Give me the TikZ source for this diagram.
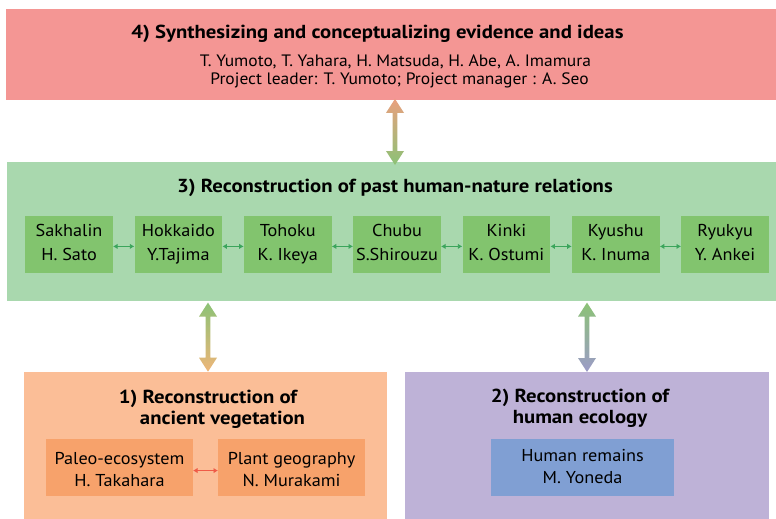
\documentclass[tikz,border=0pt]{standalone}
\usepackage{fontspec}
\setmainfont{PT Sans}[FakeStretch=1.06, BoldFeatures={FakeStretch=1.10}]
\usetikzlibrary{arrows.meta,calc}

% box fills
\definecolor{synfill}{HTML}{F49694}
\definecolor{pastfill}{HTML}{A9D8AE}
\definecolor{regionfill}{HTML}{82C46E}
\definecolor{linkgreen}{HTML}{3BA55C}
\definecolor{vegfill}{HTML}{FBBE97}
\definecolor{vegsub}{HTML}{F7A26B}
\definecolor{linkred}{HTML}{EF5B47}
\definecolor{humfill}{HTML}{BEB2D7}
\definecolor{humsub}{HTML}{809FD3}
% gradient arrow ends
\definecolor{arrsalmon}{HTML}{E9A07E}
\definecolor{arrgreen}{HTML}{8CC276}
\definecolor{arrorange}{HTML}{EEB679}
\definecolor{arrpurple}{HTML}{9C9BC8}

% thick double-headed arrow with a vertical colour gradient,
% from coordinate #1 (upper tip) to coordinate #2 (lower tip)
\newcommand\gradarrow[4]{%
  \shade[top color=#3, bottom color=#4]
    let \p1=(#1), \p2=(#2) in
    (\x1,\y1) -- (\x1+9pt,\y1-14pt) -- (\x1+2.4pt,\y1-14pt)
    -- (\x1+2.4pt,\y2+14pt) -- (\x1+9pt,\y2+14pt) -- (\x1,\y2)
    -- (\x1-9pt,\y2+14pt) -- (\x1-2.4pt,\y2+14pt)
    -- (\x1-2.4pt,\y1-14pt) -- (\x1-9pt,\y1-14pt) -- cycle;}

% struts that give every two-line label the same height and depth
\newcommand\topstrut{\rule{0pt}{14pt}}
\newcommand\botstrut{\rule[-5pt]{0pt}{5pt}}
% taller first-line strut that lowers a label a little
\newcommand\lowerstrut{\rule{0pt}{20pt}}

\tikzset{
  panel/.style={rectangle, inner sep=0pt, anchor=north west, draw=none},
  heading/.style={font=\fontsize{18.85}{20.5}\selectfont\bfseries, align=center, inner sep=0pt},
  names/.style={font=\fontsize{16.5}{18}\selectfont, align=center, inner sep=0pt},
  region/.style={panel, fill=regionfill, minimum width=87.7pt, minimum height=57pt,
    align=center, font=\fontsize{17.2}{24}\selectfont},
  subbox/.style={panel, minimum width=146.7pt, minimum height=56.7pt,
    align=center, font=\fontsize{17.2}{22}\selectfont},
  link/.style={{Latex[length=4.5pt,width=5.5pt]}-{Latex[length=4.5pt,width=5.5pt]}, line width=1.3pt},
}

\begin{document}
\begin{tikzpicture}[x=1pt, y=-1pt]
\useasboundingbox (0,0) rectangle (776,519);

% 4) synthesis panel
\node[panel, fill=synfill, minimum width=770pt, minimum height=90.5pt] (syn) at (6,9) {};
\node[heading] (synhead) at (377.5,34) {4) Synthesizing and conceptualizing evidence and ideas};
\node[names] (synnames) at (395.5,71.5) {T. Yumoto, T. Yahara, H. Matsuda, H. Abe, A. Imamura\\\hspace*{8pt}Project leader: T. Yumoto; Project manager : A. Seo};

% 3) past human-nature relations panel
\node[panel, fill=pastfill, minimum width=769pt, minimum height=138.7pt] (past) at (7,162) {};
\node[heading] (pasthead) at (395,188) {3) Reconstruction of past human-nature relations};

\node[region] (r1) at (25,215.7)    {\topstrut Sakhalin\\H. Sato\botstrut};
\node[region] (r2) at (134.3,215.7) {\topstrut Hokkaido\\Y.Tajima\botstrut};
\node[region] (r3) at (243.7,215.7) {\topstrut Tohoku\\K. Ikeya\botstrut};
\node[region] (r4) at (353,215.7)   {\topstrut Chubu\\S.Shirouzu\botstrut};
\node[region] (r5) at (462.3,215.7) {\topstrut Kinki\\K. Ostumi\botstrut};
\node[region] (r6) at (571.7,215.7) {\topstrut Kyushu\\K. Inuma\botstrut};
\node[region] (r7) at (681,215.7)   {\topstrut Ryukyu\\Y. Ankei\botstrut};

\foreach \a/\b in {r1/r2, r2/r3, r3/r4, r4/r5, r5/r6, r6/r7}
  \draw[link, linkgreen] ([yshift=-2pt]\a.east) -- ([yshift=-2pt]\b.west);

% 1) ancient vegetation panel
\node[panel, fill=vegfill, minimum width=362.7pt, minimum height=147pt] (veg) at (24,371.7) {};
\node[heading] (veghead) at (208,409.5) {1) Reconstruction of\\\hspace*{29pt}ancient vegetation};
\node[subbox, fill=vegsub] (paleo) at (46,439)  {\lowerstrut Paleo-ecosystem\\H. Takahara\botstrut};
\node[subbox, fill=vegsub] (plant) at (218,439) {\lowerstrut Plant geography\\N. Murakami\botstrut};
\draw[link, linkred] ([yshift=-3pt]paleo.east) -- ([yshift=-3pt]plant.west);

% 2) human ecology panel
\node[panel, fill=humfill, minimum width=363.3pt, minimum height=147pt] (hum) at (405,372) {};
\node[heading] (humhead) at (580,408.5) {2) Reconstruction of\\human ecology};
\node[subbox, fill=humsub, minimum width=182.7pt] (remains) at (491,439) {\topstrut Human remains\\M. Yoneda\botstrut};

% gradient connectors between panels
\coordinate (a1) at ($(syn.south west)+(389,-1)$);
\coordinate (a2) at ($(past.north west)+(388,3)$);
\gradarrow{a1}{a2}{arrsalmon}{arrgreen}

\coordinate (b1) at ($(past.south west)+(201,1.5)$);
\coordinate (b2) at (b1 |- veg.north);
\gradarrow{b1}{b2}{arrgreen}{arrorange}

\coordinate (c1) at ($(past.south west)+(580,1.5)$);
\coordinate (c2) at (c1 |- hum.north);
\gradarrow{c1}{c2}{arrgreen}{arrpurple}
\end{tikzpicture}
\end{document}
